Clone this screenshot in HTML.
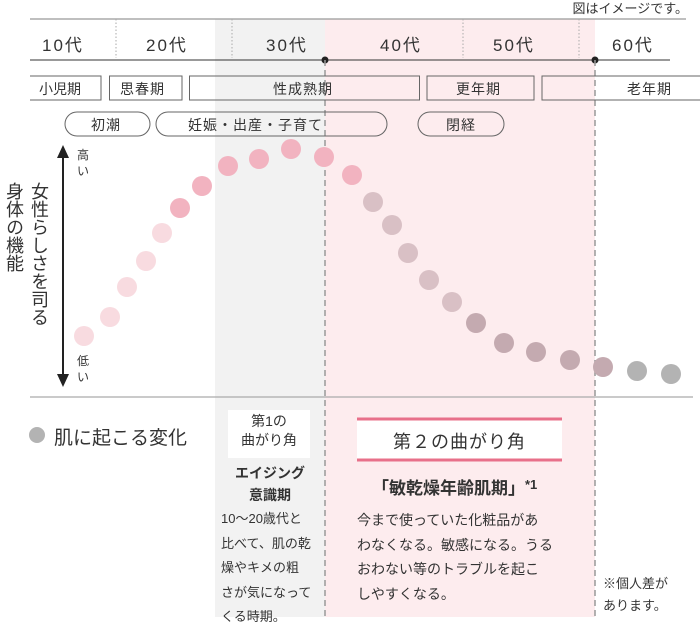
<!DOCTYPE html>
<html><head><meta charset="utf-8"><style>
body{margin:0;width:700px;height:617px;background:#fff;overflow:hidden;position:relative;font-family:"Liberation Sans","Noto Sans CJK JP",sans-serif;color:#333}
.a{position:absolute;white-space:nowrap}
</style></head><body>
<svg class="a" style="left:0;top:0" width="700" height="617">
<rect x="215" y="19" width="110" height="598" fill="#f2f2f2"/>
<rect x="325" y="19" width="270" height="598" fill="#fdecee"/>
<line x1="30" y1="19" x2="686" y2="19" stroke="#999" stroke-width="1.2"/>
<g stroke="#aaa" stroke-dasharray="1.5,2"><line x1="116" y1="19" x2="116" y2="58"/><line x1="232" y1="19" x2="232" y2="58"/><line x1="463" y1="19" x2="463" y2="58"/><line x1="579" y1="19" x2="579" y2="58"/></g>
<line x1="30" y1="60" x2="670" y2="60" stroke="#333"/>
<circle cx="325" cy="60" r="3.5" fill="#222"/><circle cx="595" cy="60" r="3.5" fill="#222"/>
<g stroke="#999" stroke-width="1.5" stroke-dasharray="6,4"><line x1="325" y1="60" x2="325" y2="617"/><line x1="595" y1="60" x2="595" y2="617"/></g>
<g fill="none" stroke="#666" stroke-width="1">
<rect x="10" y="76" width="91" height="24"/><rect x="109.5" y="76" width="72.5" height="24"/><rect x="189.5" y="76" width="230" height="24"/><rect x="427" y="76" width="107" height="24"/><rect x="542" y="76" width="170" height="24"/>
<rect x="65" y="112" width="85" height="24" rx="12"/><rect x="156" y="112" width="231" height="24" rx="12"/><rect x="418" y="112" width="86" height="24" rx="12"/>
</g>
<rect x="0" y="70" width="30" height="35" fill="#fff"/>
<line x1="30" y1="397" x2="693" y2="397" stroke="#aaa" stroke-width="1.2"/>
<line x1="63" y1="158" x2="63" y2="375" stroke="#222" stroke-width="2"/>
<polygon points="57,158 69,158 63,145" fill="#222"/><polygon points="57,374 69,374 63,387" fill="#222"/>
<g fill="#f8dbe0"><circle cx="84" cy="336" r="10"/><circle cx="110" cy="317" r="10"/><circle cx="127" cy="287" r="10"/><circle cx="146" cy="261" r="10"/><circle cx="162" cy="233" r="10"/></g>
<g fill="#f2b3c0"><circle cx="180" cy="208" r="10"/><circle cx="202" cy="186" r="10"/><circle cx="228" cy="166" r="10"/><circle cx="259" cy="159" r="10"/><circle cx="291" cy="149" r="10"/><circle cx="324" cy="157" r="10"/><circle cx="352" cy="175" r="10"/></g>
<g fill="#d9c0c5"><circle cx="373" cy="202" r="10"/><circle cx="392" cy="225" r="10"/><circle cx="408" cy="253" r="10"/><circle cx="429" cy="280" r="10"/><circle cx="452" cy="302" r="10"/></g>
<g fill="#c4aab0"><circle cx="476" cy="323" r="10"/><circle cx="504" cy="343" r="10"/><circle cx="536" cy="352" r="10"/><circle cx="570" cy="360" r="10"/><circle cx="603" cy="367" r="10"/></g>
<g fill="#b3b3b3"><circle cx="637" cy="371" r="10"/><circle cx="671" cy="374" r="10"/><circle cx="37" cy="435" r="8"/></g>
<rect x="228" y="410" width="82" height="48" fill="#fff"/>
<rect x="357" y="418" width="205" height="43" fill="#fff"/>
<line x1="357" y1="419" x2="562" y2="419" stroke="#e8708a" stroke-width="3"/>
<line x1="357" y1="460" x2="562" y2="460" stroke="#e8708a" stroke-width="3"/>
</svg>
<div class="a" style="right:12px;top:-2px;font-size:13px">図はイメージです。</div>
<div class="a" style="left:42px;top:31px;font-size:17px;letter-spacing:2px">10代</div>
<div class="a" style="left:146px;top:31px;font-size:17px;letter-spacing:2px">20代</div>
<div class="a" style="left:266px;top:31px;font-size:17px;letter-spacing:2px">30代</div>
<div class="a" style="left:380px;top:31px;font-size:17px;letter-spacing:2px">40代</div>
<div class="a" style="left:493px;top:31px;font-size:17px;letter-spacing:2px">50代</div>
<div class="a" style="left:612px;top:31px;font-size:17px;letter-spacing:2px">60代</div>
<div class="a" style="left:39px;top:79px;font-size:14px">小児期</div>
<div class="a" style="left:120px;top:79px;font-size:14px;letter-spacing:1px">思春期</div>
<div class="a" style="left:273px;top:79px;font-size:14px;letter-spacing:1px">性成熟期</div>
<div class="a" style="left:456px;top:79px;font-size:14px;letter-spacing:1px">更年期</div>
<div class="a" style="left:627px;top:79px;font-size:14px;letter-spacing:1px">老年期</div>
<div class="a" style="left:91px;top:115px;font-size:14px;letter-spacing:1px">初潮</div>
<div class="a" style="left:188px;top:115px;font-size:14px;letter-spacing:1px">妊娠・出産・子育て</div>
<div class="a" style="left:446px;top:115px;font-size:14px;letter-spacing:1px">閉経</div>
<div class="a" style="left:77px;top:147px;font-size:12px;line-height:16px;white-space:normal;width:14px">高い</div>
<div class="a" style="left:77px;top:353px;font-size:12px;line-height:16px;white-space:normal;width:14px">低い</div>
<div class="a" style="left:28px;top:182px;font-size:18px;line-height:21px;writing-mode:vertical-rl">女性らしさを司る</div>
<div class="a" style="left:3px;top:182px;font-size:18px;line-height:21px;writing-mode:vertical-rl">身体の機能</div>
<div class="a" style="left:54px;top:423px;font-size:19px">肌に起こる変化</div>
<div class="a" style="left:228px;top:412px;width:82px;text-align:center;font-size:14px;line-height:19px">第1の<br>曲がり角</div>
<div class="a" style="left:215px;top:462px;width:110px;text-align:center;font-size:14px;line-height:22px;font-weight:bold">エイジング<br>意識期</div>
<div class="a" style="left:221px;top:507px;font-size:13px;line-height:24.5px">10〜20歳代と<br>比べて、肌の乾<br>燥やキメの粗<br>さが気になって<br>くる時期。</div>
<div class="a" style="left:357px;top:428px;width:205px;text-align:center;font-size:18px;letter-spacing:1px">第２の曲がり角</div>
<div class="a" style="left:372px;top:474px;font-size:17px;font-weight:bold">「敏乾燥年齢肌期」<span style="font-size:13px;vertical-align:5px">*1</span></div>
<div class="a" style="left:357px;top:508px;font-size:14px;line-height:24.5px">今まで使っていた化粧品があ<br>わなくなる。敏感になる。うる<br>おわない等のトラブルを起こ<br>しやすくなる。</div>
<div class="a" style="left:603px;top:573px;font-size:13px;line-height:22px">※個人差が<br>あります。</div>
</body></html>
